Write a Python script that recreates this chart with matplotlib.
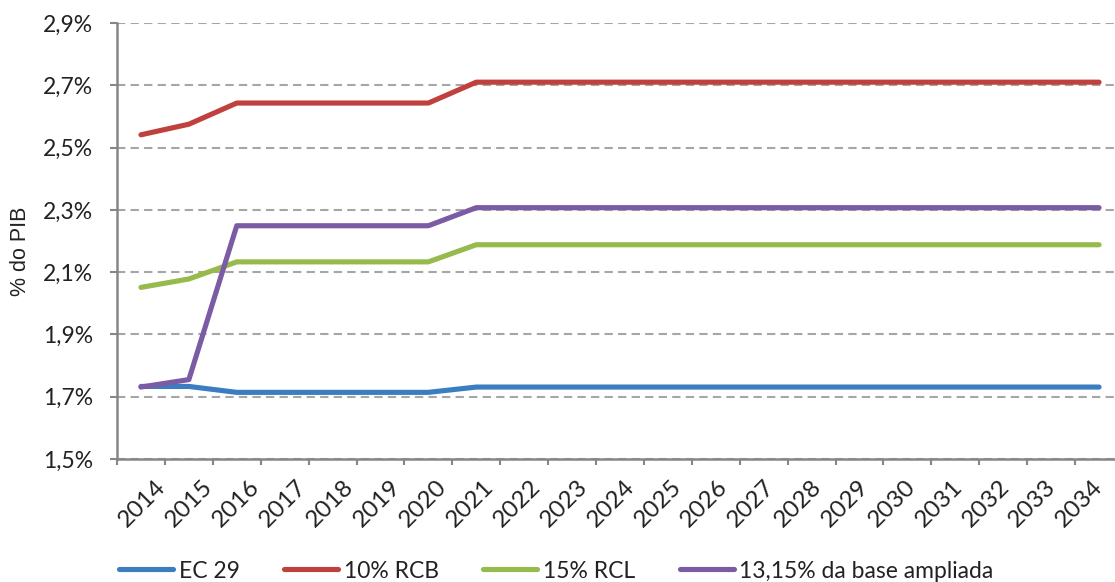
import matplotlib
matplotlib.use("Agg")
import matplotlib.pyplot as plt
from matplotlib.ticker import FixedLocator, FuncFormatter
from matplotlib.lines import Line2D
import matplotlib.transforms as mtransforms
import numpy as np

years = [str(y) for y in range(2014, 2035)]
ec29 = [1.733, 1.733, 1.714, 1.714, 1.714, 1.714, 1.714] + [1.731] * 14
rcb10 = [2.541, 2.575, 2.643, 2.643, 2.643, 2.643, 2.643] + [2.710] * 14
rcl15 = [2.051, 2.078, 2.133, 2.133, 2.133, 2.133, 2.133] + [2.188] * 14
base1315 = [1.731, 1.755, 2.249, 2.249, 2.249, 2.249, 2.249] + [2.307] * 14

series_names = ["EC 29", "10% RCB", "15% RCL", "13,15% da base ampliada"]
colors = ["#3B7DC1", "#C0403E", "#97BA4C", "#7B5BA4"]
yticks = [1.5, 1.7, 1.9, 2.1, 2.3, 2.5, 2.7, 2.9]

plt.rcParams['font.family'] = ['Lato', 'DejaVu Sans']
FS = 16.5

W, H = 1115, 582
fig = plt.figure(figsize=(W / 100, H / 100), dpi=100)
left_px, right_px, top_px, bot_px = 117, 1123, 23, 459
ax = fig.add_axes([left_px / W, (H - bot_px) / H, (right_px - left_px) / W, (bot_px - top_px) / H])

x = np.arange(len(years))
for vals, c in zip([ec29, rcb10, rcl15, base1315], colors):
    ax.plot(x, vals, color=c, lw=3.7, solid_capstyle='round', solid_joinstyle='round', zorder=3)

ax.set_xlim(-0.5, len(years) - 0.5)
ax.set_ylim(1.5, 2.9)
ax.set_yticks(yticks)
ax.yaxis.set_major_formatter(FuncFormatter(lambda v, p: f"{v:.1f}%".replace('.', ',')))
ax.grid(axis='y', color='#A6A6A6', linestyle=(0, (4, 2.5)), lw=1.5, zorder=1)
ax.set_axisbelow(True)

ax.set_xticks(x)
ax.set_xticklabels(years, rotation=45, ha='right', rotation_mode='anchor')
ax.xaxis.set_minor_locator(FixedLocator(np.arange(-0.5, len(years), 1.0)))
ax.tick_params(axis='x', which='major', length=0, pad=12, labelsize=17.5, colors='#222222')
ax.tick_params(axis='x', which='minor', length=4.3, width=1.5, color='#868686')
ax.tick_params(axis='y', which='major', length=5, width=1.5, color='#868686', labelsize=FS,
               labelcolor='#222222', pad=12)

# Excel packs the rotated labels slightly tighter than the categories
n = len(years)
for i, lab in enumerate(ax.get_xticklabels()):
    dx = (14 - 21 * i / (n - 1)) / 100.0
    lab.set_transform(lab.get_transform() + mtransforms.ScaledTranslation(dx, 0, fig.dpi_scale_trans))

for s in ['top', 'right']:
    ax.spines[s].set_visible(False)
for s in ['left', 'bottom']:
    ax.spines[s].set_color('#868686')
    ax.spines[s].set_linewidth(1.8)

fig.text(21 / W, 1 - 251 / H, "% do PIB", rotation=90, ha='center', va='center', fontsize=15.5,
         color='#222222', family=['Liberation Sans', 'DejaVu Sans'])

handles = [Line2D([], [], color=c, lw=3.7, solid_capstyle='round') for c in colors]
leg = fig.legend(handles, series_names, loc='center left', bbox_to_anchor=(119 / W, 1 - 571 / H), ncol=4,
                 frameon=False, fontsize=FS, handlelength=2.35, handletextpad=0.25, columnspacing=1.95,
                 borderaxespad=0, borderpad=0)
for t in leg.get_texts():
    t.set_color('#222222')

fig.savefig("out.png", dpi=100)
